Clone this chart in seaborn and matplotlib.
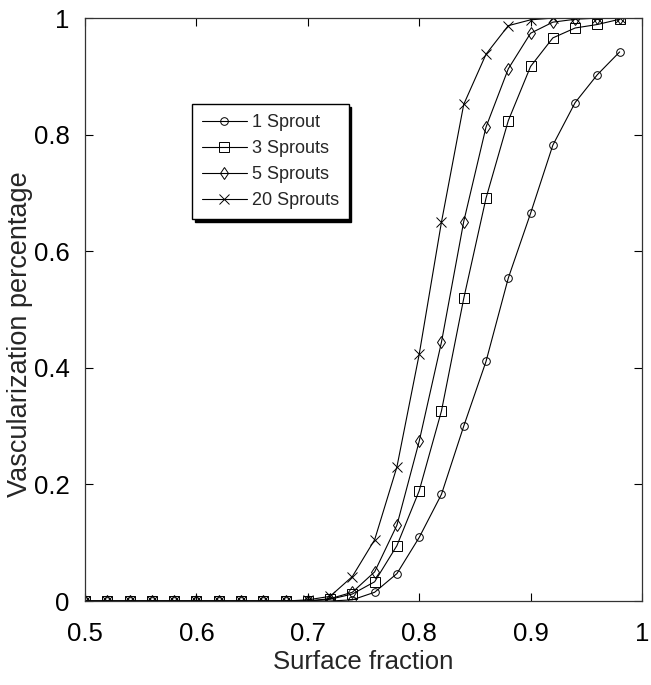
import numpy as np
import pandas as pd
import matplotlib
matplotlib.use("Agg")
import matplotlib.pyplot as plt
import seaborn as sns

# surface fraction, 0.50 .. 0.98 step 0.02
surface = [0.50, 0.52, 0.54, 0.56, 0.58, 0.60, 0.62, 0.64, 0.66, 0.68,
           0.70, 0.72, 0.74, 0.76, 0.78, 0.80, 0.82, 0.84, 0.86, 0.88,
           0.90, 0.92, 0.94, 0.96, 0.98]

zeros = [0.0] * 10
sprout_1 = zeros + [0.0, 0.0, 0.002, 0.015, 0.047, 0.109, 0.183, 0.300, 0.411,
                    0.554, 0.665, 0.782, 0.855, 0.903, 0.942]
sprout_3 = zeros + [0.0, 0.003, 0.012, 0.033, 0.095, 0.189, 0.326, 0.519, 0.691,
                    0.824, 0.917, 0.966, 0.983, 0.989, 0.998]
sprout_5 = zeros + [0.0, 0.004, 0.015, 0.050, 0.130, 0.274, 0.444, 0.651, 0.813,
                    0.913, 0.974, 0.993, 0.998, 1.0, 1.0]
sprout_20 = zeros + [0.002, 0.008, 0.042, 0.105, 0.230, 0.423, 0.650, 0.852, 0.938,
                     0.987, 0.997, 1.0, 1.0, 1.0, 1.0]

labels = ["1 Sprout", "3 Sprouts", "5 Sprouts", "20 Sprouts"]
series = [sprout_1, sprout_3, sprout_5, sprout_20]
markers = ["o", "s", "d", "x"]
msizes = [5.5, 6.5, 6, 7.5]

sns.set_style("ticks")
plt.rcParams["font.family"] = ["Liberation Sans", "DejaVu Sans"]

fig = plt.figure(figsize=(6.51, 6.85), dpi=100)
ax = fig.add_axes([0.1306, 0.1226, 0.8555, 0.851])

for lab, vals, mk, ms in zip(labels, series, markers, msizes):
    df = pd.DataFrame({"x": surface, "y": vals})
    sns.lineplot(data=df, x="x", y="y", ax=ax, color="black", linewidth=0.8,
                 marker=mk, markersize=ms, markerfacecolor="none",
                 markeredgecolor="black", markeredgewidth=0.7, label=lab)

ax.set_xlim(0.5, 1.0)
ax.set_ylim(0, 1.0)
ax.set_xticks([0.5, 0.6, 0.7, 0.8, 0.9, 1.0])
ax.set_xticklabels(["0.5", "0.6", "0.7", "0.8", "0.9", "1"])
ax.set_yticks([0, 0.2, 0.4, 0.6, 0.8, 1.0])
ax.set_yticklabels(["0", "0.2", "0.4", "0.6", "0.8", "1"])
ax.tick_params(direction="in", top=True, right=True, length=6, width=0.8,
               labelsize=18.5, colors="black")
ax.tick_params(axis="x", pad=15)
ax.tick_params(axis="y", pad=11)
for sp in ax.spines.values():
    sp.set_color("#333333")
    sp.set_linewidth(0.9)
ax.set_xlabel("Surface fraction", fontsize=18.5, labelpad=3)
ax.set_ylabel("Vascularization percentage", fontsize=19.5)
ax.yaxis.set_label_coords(-0.094, 0.458)

leg = ax.legend(loc="upper left", bbox_to_anchor=(0.192, 0.8525), fontsize=13,
                frameon=True, fancybox=False, edgecolor="black", framealpha=1,
                shadow={"color": "black", "alpha": 1}, handlelength=2.5,
                handletextpad=0.25, borderpad=0.55, labelspacing=0.5,
                borderaxespad=0)
leg.get_frame().set_linewidth(1.0)

fig.savefig("out.png", dpi=100)
